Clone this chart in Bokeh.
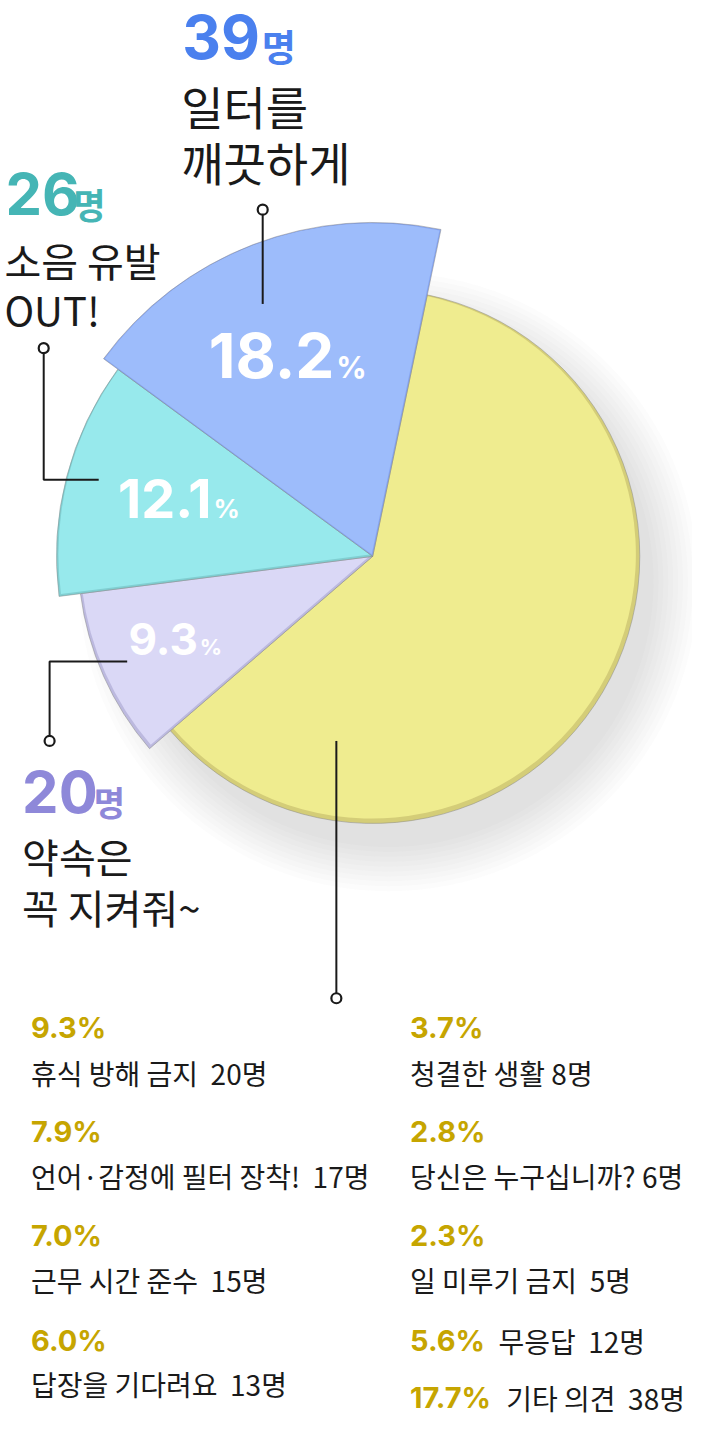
import math
from bokeh.plotting import figure
from bokeh.models import Range1d
from bokeh.core.properties import value
from bokeh.embed import file_html
from bokeh.resources import INLINE

# ---------------- data ----------------
pie_pct = [18.2, 12.1, 9.3, 60.4]
pie_counts = ["39", "26", "20"]
pie_titles = [["일터를", "깨끗하게"], ["소음 유발", "OUT!"], ["약속은", "꼭 지켜줘~"]]
pie_pct_labels = ["18.2", "12.1", "9.3"]

legend_pct = ["9.3%", "7.9%", "7.0%", "6.0%", "3.7%", "2.8%", "2.3%", "5.6%", "17.7%"]
legend_labels = ["휴식 방해 금지  20명", "언어·감정에 필터 장착!  17명", "근무 시간 준수  15명",
                 "답장을 기다려요  13명", "청결한 생활 8명", "당신은 누구십니까? 6명",
                 "일 미루기 금지  5명", "무응답  12명", "기타 의견  38명"]

# ---------------- style ----------------
KR = "Noto Sans CJK KR"
NUM = "Inter"
W, H = 692, 1421
Y_TOP, Y_BOT = -6, 1441          # reference-pixel extent shown (with padding)
S = H / (Y_BOT - Y_TOP)
X_LEFT = -2

pie_colors = ["#9dbcfb", "#97e9ec", "#dad8f6", "#efec8f"]
pie_edges = ["#86a5f2", "#80cfd2", "#bcb9df", "#d4cd78"]
pie_radius = [340, 322, 300, 272]
count_colors = ["#4a80ee", "#45b5b5", "#8e88d9"]
GOLD = "#c6a500"
INK = "#1a1a1a"
CX, CY = 377, 560
START_DEG = 78.2


def Y(y):
    return -y


p = figure(width=W, height=H, output_backend="svg", toolbar_location=None,
           x_range=Range1d(X_LEFT, X_LEFT + W / S), y_range=Range1d(-Y_BOT, -Y_TOP),
           min_border=0)
p.axis.visible = False
p.grid.visible = False
p.outline_line_color = None
p.background_fill_color = "white"
p.border_fill_color = "white"

# soft shadow
for k in range(10):
    p.circle(x=[CX + 16], y=[Y(CY + 26)], radius=270 + 5 * k,
             fill_color="#7a7060", fill_alpha=0.018, line_color=None)

# wedges
angles = []
a = math.radians(START_DEG)
for v in pie_pct:
    b = a + math.radians(v * 3.6)
    angles.append((a, b))
    a = b

order = [3, 2, 1, 0]
for i in order:
    a0, a1 = angles[i]
    p.wedge(x=[CX], y=[Y(CY)], radius=pie_radius[i], start_angle=[a0], end_angle=[a1],
            fill_color=pie_edges[i], line_color=None)
    p.wedge(x=[CX - 1], y=[Y(CY - 2)], radius=pie_radius[i] - 3,
            start_angle=[a0], end_angle=[a1],
            fill_color=pie_colors[i], line_color=None)
    p.wedge(x=[CX], y=[Y(CY)], radius=pie_radius[i], start_angle=[a0], end_angle=[a1],
            fill_color=None, line_color="#8a8a8a", line_alpha=0.5, line_width=1)


def txt(x, y, t, size, color, bold=False, align="left", font=KR, alpha=1.0):
    yy = y - (0.37 * size + 2)  # renderer baseline correction
    p.text(x=[x], y=[Y(yy)], text=[t.replace(" ", "\u00a0")], text_font=value(font),
           text_font_size=value(f"{size}px"),
           text_font_style="bold" if bold else "normal",
           text_color=color, text_alpha=alpha, text_align=align,
           text_baseline="alphabetic")


# percentage labels inside slices
pl = [(338, 380, 62, 30), (213, 523, 54, 26), (199, 662, 44, 22)]
for (x, y, s1, s2), t in zip(pl, pie_pct_labels):
    txt(x, y, t, s1, "white", bold=True, align="right", font=NUM)
    txt(x + 2, y, "%", s2, "white", bold=True, font=NUM)

# leader lines
LW = 2
p.line(x=[265, 265], y=[Y(212), Y(303)], line_color=INK, line_width=LW)
p.line(x=[42, 42, 98], y=[Y(353), Y(482), Y(482)], line_color=INK, line_width=LW)
p.line(x=[127, 48, 48], y=[Y(667), Y(667), Y(743)], line_color=INK, line_width=LW)
p.line(x=[340, 340], y=[Y(748), Y(1005)], line_color=INK, line_width=LW)
p.scatter(x=[265, 42, 48, 340], y=[Y(207), Y(348), Y(748), Y(1010)], size=10,
          fill_color="white", line_color=INK, line_width=2.2)

# callout counts + titles: (title x, count baseline, count size, count x, 명 x, 명 size,
#                            title line1 baseline, line2 baseline, title size)
callouts = [
    (182, 55, 60, 183, 264, 37, 119, 176, 46),
    (2, 215, 58, 3, 72, 35, 275, 325, 40),
    (20, 823, 58, 20, 93, 34, 882, 934, 40),
]
for (x, yb, s1, xc, xm, s2, y1, y2, ts), cnt, col, title in zip(callouts, pie_counts, count_colors, pie_titles):
    txt(xc, yb, cnt, s1, col, bold=True, font=NUM)
    txt(xm, yb + 1, "명", s2, col, bold=True)
    txt(x, y1, title[0], ts, INK)
    txt(x, y2, title[1], ts, INK)

# legend
LX = [29, 29, 29, 29, 415, 415, 415]
PY = [1053, 1158, 1264, 1371, 1053, 1158, 1264]
LY = [1098, 1203, 1309, 1415, 1098, 1203, 1309]
for i in range(7):
    txt(LX[i], PY[i], legend_pct[i], 29, GOLD, bold=True, font=NUM)
    txt(LX[i], LY[i], legend_labels[i], 28, INK)
# inline rows
inline = [(415, 505, 1371), (415, 513, 1429)]
for (xp, xl, yb), i in zip(inline, [7, 8]):
    txt(xp, yb, legend_pct[i], 29, GOLD, bold=True, font=NUM)
    txt(xl, yb, legend_labels[i], 28, INK)

open("out.html", "w").write(file_html(p, INLINE))
